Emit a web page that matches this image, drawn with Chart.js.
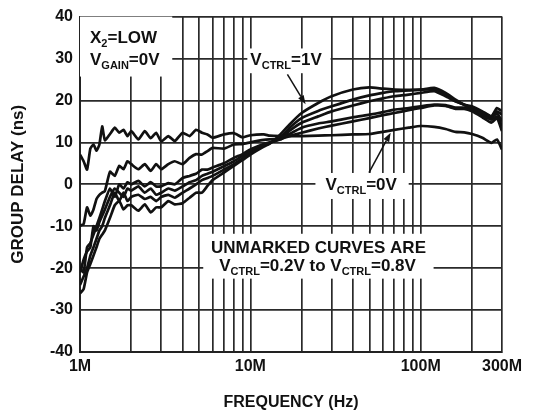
<!DOCTYPE html>
<html>
<head>
<meta charset="utf-8">
<script src="https://cdn.jsdelivr.net/npm/chart.js@4/dist/chart.umd.min.js"></script>
<style>
  html, body { margin: 0; padding: 0; background: #fff; }
  #wrap { width: 533px; height: 417px; }
</style>
</head>
<body>
<div id="wrap"><canvas id="c" width="533" height="417"></canvas></div>
<script>
'use strict';

// frequency points, MHz
var freqMHz = [1, 1.05, 1.1, 1.15, 1.2, 1.25, 1.3, 1.35, 1.4, 1.5, 1.6, 1.7, 1.8, 1.9,
  2, 2.2, 2.4, 2.6, 2.8, 3, 3.3, 3.6, 4, 4.4, 4.8, 5.2, 5.6, 6, 7, 8, 9, 10, 12, 13,
  15, 17, 20, 25, 30, 40, 50, 60, 70, 85, 100, 120, 140, 160, 180, 200, 230, 260, 280, 300];

// group delay (ns) for each VCTRL setting
var delay0V = [7.1, 5.5, 3.5, 8.5, 9.5, 8, 9.5, 13.8, 10.5, 12, 13.5, 12.3, 13, 11.5,
  12.7, 10.7, 12.7, 11, 12.3, 10.2, 11.5, 10.3, 12.3, 11.5, 13, 12.3, 11.9, 11.1, 11.9, 12.2, 11.2, 11.7, 11.9, 11.6,
  11.5, 11.5, 11.5, 11.6, 11.7, 11.9, 12, 12.5, 13, 13.5, 13.9, 13.7, 13.2, 12.5, 12.4, 12, 11.1, 9.9, 10.7, 8.3];
var delay02V = [-9.9, -9.5, -5.5, -7.5, -6, -3.5, -2.5, -2, -1.6, 3, 2, 4.4, 3.6, 5.5,
  4.8, 3.6, 4.8, 3.2, 4.8, 3.6, 4.8, 5.5, 4.8, 6.3, 7.2, 7.1, 7.9, 8.7, 8.5, 9.5, 9.6, 10, 10.6, 10.7,
  10.8, 11.5, 12.3, 13.3, 14, 15, 15.8, 16.5, 17, 17.7, 18.2, 18.8, 18.7, 18, 18, 17.4, 16, 14.7, 15.8, 12.7];
var delay04V = [-20, -21, -15, -14, -12, -10, -8, -6, -4, -1, -3, 0, -1, 0.5,
  0, 0.8, -0.5, 0.5, -0.5, -0.5, 0.3, 0, 1.5, 2, 2.5, 3.5, 3.5, 4, 5, 6.3, 7.2, 8.3, 9.6, 10,
  10.7, 12, 13.5, 14.5, 15, 16, 16.6, 17.2, 17.8, 18.2, 18.6, 19, 18.9, 18.3, 18.3, 17.8, 16.5, 15.4, 16.2, 13.9];
var delay06V = [-21, -18, -16, -15, -10, -11, -9, -7.5, -6, -3, -1, -2, -3, -1,
  -1.5, -0.5, -2, -1, -2.5, -2, -1, -1.5, -0.5, 0.5, 1, 2, 2.5, 3, 4.3, 5.5, 6.8, 7.9, 9.3, 9.9,
  10.9, 12.8, 14.7, 16.2, 17.4, 18.8, 19.8, 20.5, 21, 21.4, 21.8, 22.2, 21, 19.8, 19, 18.2, 17, 15.8, 17, 15];
var delay08V = [-24, -22, -20, -17, -15, -13, -11, -10, -8, -5, -2, -4, -2, -4,
  -3, -2.5, -3.5, -3, -4, -3, -2.5, -3.2, -2, -1, 0, 1, 1.5, 2, 3.5, 4.8, 6.2, 7.5, 9.2, 9.8,
  11.1, 13.5, 15.8, 17.5, 18.6, 20.2, 21.2, 21.8, 22.2, 22.4, 22.6, 22.6, 21.4, 19.8, 19, 18.2, 17.2, 16.2, 17.4, 16.6];
var delay1V = [-26, -25, -21, -19, -17, -15, -13, -12, -11, -8, -5, -4, -6, -5,
  -5, -6.3, -4.8, -6.7, -5.5, -5.5, -4, -4.8, -4.5, -3.2, -2, -2, -0.4, 1, 2.8, 4.4, 5.8, 7.1, 9, 9.7,
  11.9, 14.3, 17, 19.4, 21, 22.6, 23.1, 22.8, 22.6, 22.5, 22.6, 23, 21.8, 20.2, 19, 18.6, 17.4, 16.2, 18.2, 17.4];

var curves = [delay0V, delay02V, delay04V, delay06V, delay08V, delay1V];
var curveNames = ['VCTRL=0V', 'VCTRL=0.2V', 'VCTRL=0.4V', 'VCTRL=0.6V', 'VCTRL=0.8V', 'VCTRL=1V'];

// axes
var xGridMHz = [1, 2, 3, 4, 5, 6, 7, 8, 9, 10, 20, 30, 40, 50, 60, 70, 80, 90, 100, 200, 300];
var xTickLabels = { 1: '1M', 10: '10M', 100: '100M', 300: '300M' };
var yMin = -40, yMax = 40, yStep = 10;

var ink = '#111';
var mainFont = 'bold 17px "Liberation Sans", Arial, sans-serif';
var subFont = 'bold 11px "Liberation Sans", Arial, sans-serif';

// white label boxes, in data units (x in MHz)
var boxes = [
  { x0: 1, x1: 3.48, y0: 25.7, y1: 40 },
  { x0: 9.6, x1: 29.6, y0: 26.5, y1: 32.4 },
  { x0: 24.1, x1: 85, y0: -3.5, y1: 2.7 },
  { x0: 5.29, x1: 119, y0: -22.5, y1: -11.8 }
];
var notes = [
  { text: 'X_{2}=LOW', x: 1.145, y: 33.7, align: 'left' },
  { text: 'V_{GAIN}=0V', x: 1.145, y: 28.4, align: 'left' },
  { text: 'V_{CTRL}=1V', x: 10, y: 28.4, align: 'left' },
  { text: 'V_{CTRL}=0V', x: 27.6, y: -1.3, align: 'left' },
  { text: 'UNMARKED CURVES ARE', x: 25.1, y: -16.3, align: 'center' },
  { text: 'V_{CTRL}=0.2V to V_{CTRL}=0.8V', x: 24.8, y: -20.6, align: 'center' }
];
var arrows = [
  { x0: 16.5, y0: 26.2, x1: 21.1, y1: 19.1 },
  { x0: 49.7, y0: 2.8, x1: 66.6, y1: 12.3 }
];

function toRuns(str) {
  var parts = str.split(/_\{([^}]*)\}/);
  return parts.map(function (t, i) { return { t: t, sub: i % 2 === 1 }; });
}

function drawRuns(ctx, str, x, y, align) {
  var runs = toRuns(str), total = 0;
  runs.forEach(function (r) {
    ctx.font = r.sub ? subFont : mainFont;
    r.w = ctx.measureText(r.t).width;
    total += r.w;
  });
  if (align === 'center') x -= total / 2;
  runs.forEach(function (r) {
    ctx.font = r.sub ? subFont : mainFont;
    ctx.fillText(r.t, x, r.sub ? y + 4 : y);
    x += r.w;
  });
}

var labelPlugin = {
  id: 'labels',
  beforeDatasetsDraw: function (chart) {
    var ctx = chart.ctx, xs = chart.scales.x, ys = chart.scales.y;
    ctx.save();
    ctx.fillStyle = '#fff';
    boxes.forEach(function (b) {
      var l = xs.getPixelForValue(b.x0 * 1e6), r = xs.getPixelForValue(b.x1 * 1e6);
      var t = ys.getPixelForValue(b.y1), btm = ys.getPixelForValue(b.y0);
      ctx.fillRect(l, t, r - l, btm - t);
    });
    ctx.restore();
  },
  afterDatasetsDraw: function (chart) {
    var ctx = chart.ctx, xs = chart.scales.x, ys = chart.scales.y;
    ctx.save();
    ctx.fillStyle = ink;
    ctx.strokeStyle = ink;
    ctx.textBaseline = 'alphabetic';
    ctx.textAlign = 'left';
    notes.forEach(function (n) {
      drawRuns(ctx, n.text, xs.getPixelForValue(n.x * 1e6), ys.getPixelForValue(n.y), n.align);
    });
    ctx.lineWidth = 1.5;
    arrows.forEach(function (a) {
      var x0 = xs.getPixelForValue(a.x0 * 1e6), y0 = ys.getPixelForValue(a.y0);
      var x1 = xs.getPixelForValue(a.x1 * 1e6), y1 = ys.getPixelForValue(a.y1);
      var ang = Math.atan2(y1 - y0, x1 - x0), len = 9, half = 3.2;
      var bx = x1 - len * Math.cos(ang), by = y1 - len * Math.sin(ang);
      ctx.beginPath();
      ctx.moveTo(x0, y0);
      ctx.lineTo(bx, by);
      ctx.stroke();
      ctx.beginPath();
      ctx.moveTo(x1, y1);
      ctx.lineTo(bx + half * Math.sin(ang), by - half * Math.cos(ang));
      ctx.lineTo(bx - half * Math.sin(ang), by + half * Math.cos(ang));
      ctx.closePath();
      ctx.fill();
    });
    ctx.restore();
  }
};

var datasets = curves.map(function (vals, i) {
  return {
    label: curveNames[i],
    data: freqMHz.map(function (f, j) { return { x: f * 1e6, y: vals[j] }; }),
    borderColor: ink,
    borderWidth: 2.7,
    pointRadius: 0,
    tension: 0.15,
    fill: false
  };
});

var ctx = document.getElementById('c').getContext('2d');
new Chart(ctx, {
  type: 'line',
  data: { datasets: datasets },
  plugins: [labelPlugin],
  options: {
    responsive: false,
    animation: false,
    layout: { padding: { top: 15, right: 31, left: 0, bottom: 0 } },
    plugins: { legend: { display: false }, tooltip: { enabled: false } },
    scales: {
      x: {
        type: 'logarithmic',
        min: 1e6,
        max: 3e8,
        afterBuildTicks: function (scale) {
          scale.ticks = xGridMHz.map(function (f) { return { value: f * 1e6 }; });
        },
        afterFit: function (scale) { scale.height = 65; },
        ticks: {
          autoSkip: false,
          maxRotation: 0,
          padding: 5,
          color: ink,
          font: { family: '"Liberation Sans", Arial, sans-serif', size: 16, weight: 'bold' },
          callback: function (v) { return xTickLabels[Math.round(v / 1e6)] || ''; }
        },
        grid: { color: '#2a2a2a', lineWidth: 1.7, drawTicks: false },
        border: { color: '#222', width: 2 },
        title: {
          display: true,
          text: 'FREQUENCY (Hz)',
          color: ink,
          padding: { top: 4, bottom: 5 },
          font: { family: '"Liberation Sans", Arial, sans-serif', size: 16, weight: 'bold' }
        }
      },
      y: {
        min: yMin,
        max: yMax,
        afterFit: function (scale) { scale.width = 80; },
        ticks: {
          stepSize: yStep,
          padding: 7,
          color: ink,
          font: { family: '"Liberation Sans", Arial, sans-serif', size: 16, weight: 'bold' }
        },
        grid: { color: '#2a2a2a', lineWidth: 1.7, drawTicks: false },
        border: { color: '#222', width: 2 },
        title: {
          display: true,
          text: 'GROUP DELAY (ns)',
          color: ink,
          padding: { top: 8, bottom: 4 },
          font: { family: '"Liberation Sans", Arial, sans-serif', size: 17, weight: 'bold' }
        }
      }
    }
  }
});
</script>
</body>
</html>
